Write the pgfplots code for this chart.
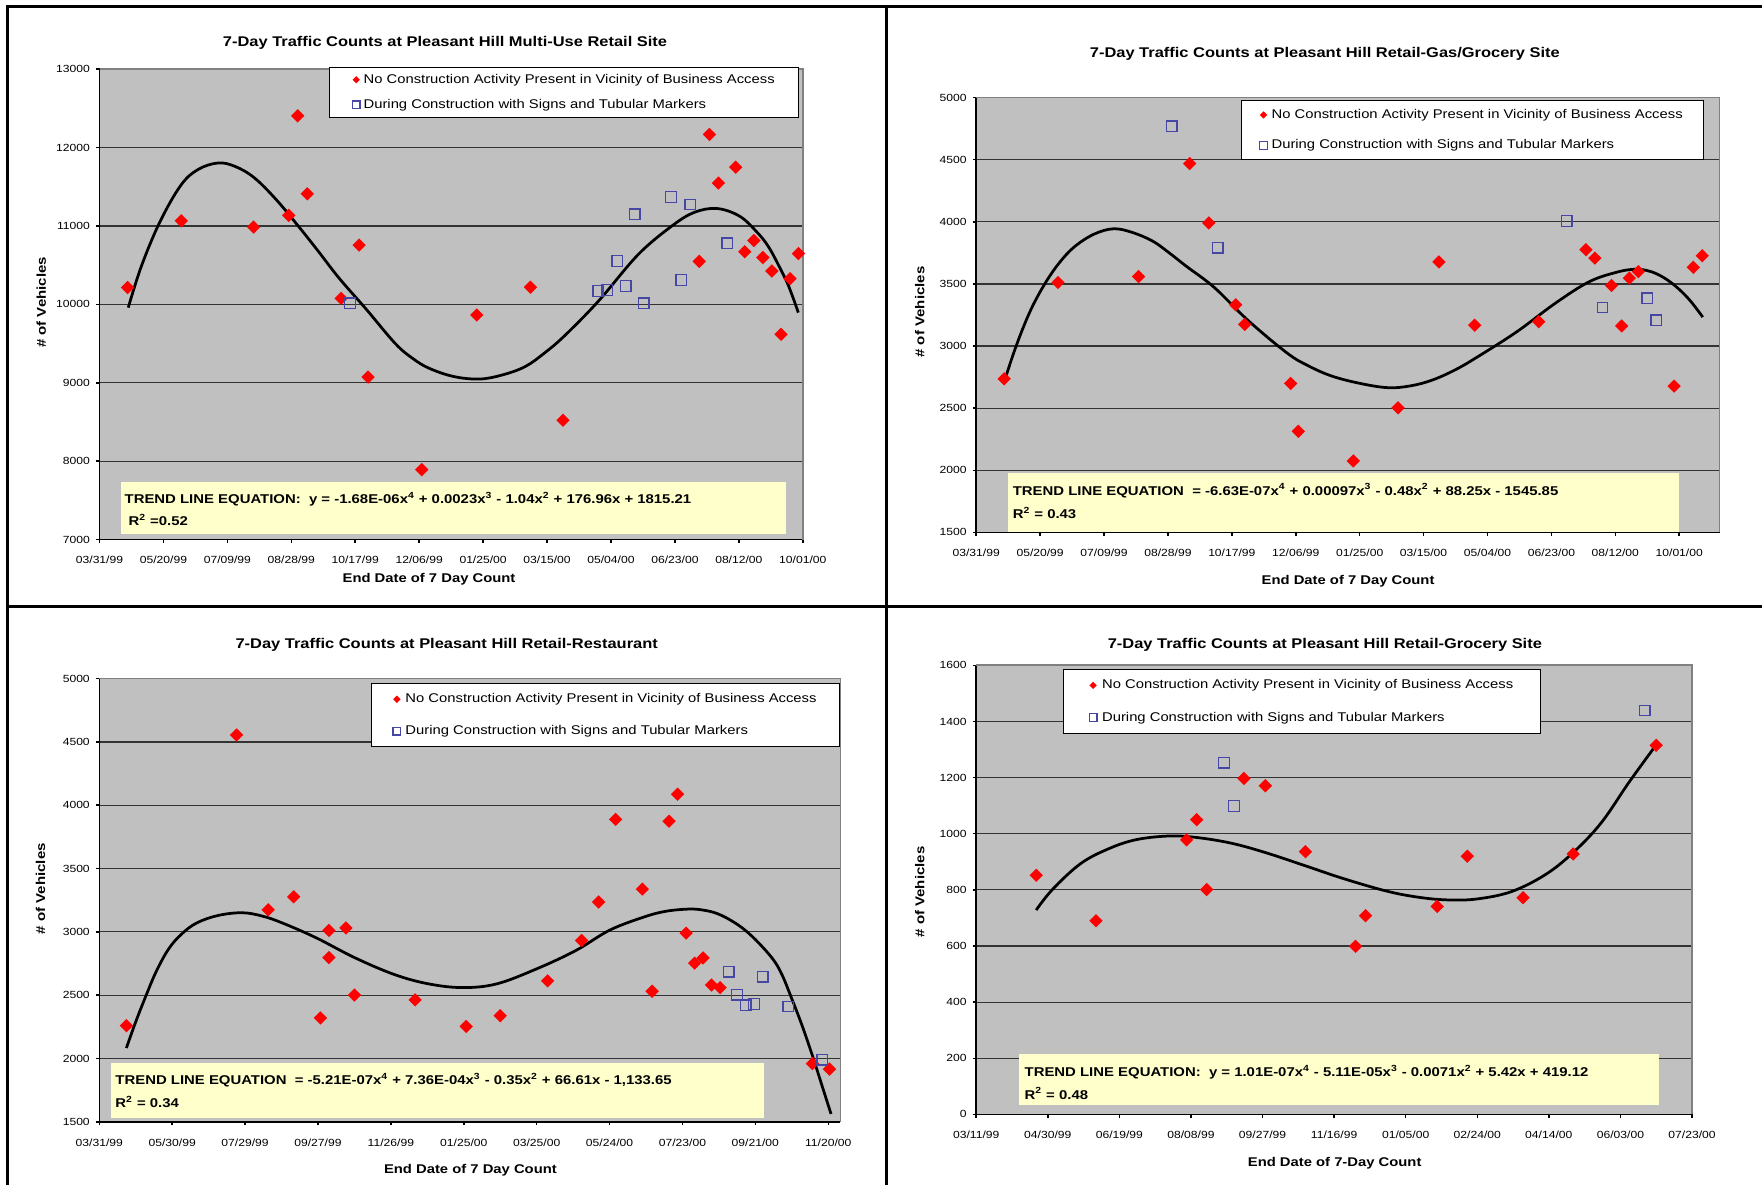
\documentclass[border=0pt]{standalone}
\usepackage{fontspec}
\setmainfont{Liberation Sans}[FakeStretch=1.17]
\usepackage{pgfplots}
\pgfplotsset{compat=1.18}
\definecolor{bggray}{RGB}{192,192,192}
\definecolor{framegray}{RGB}{128,128,128}
\definecolor{sqblue}{RGB}{70,70,165}
\definecolor{trendyellow}{RGB}{255,255,204}
\newcommand\titlefont{\fontsize{8}{9.6}\selectfont\bfseries}
\newcommand\labfont{\fontsize{7.2}{8.6}\selectfont\bfseries}
\newcommand\ylabfont{\fontsize{7.3}{8.8}\selectfont\bfseries}
\newcommand\tickfont{\fontsize{5.9}{7}\selectfont}
\newcommand\legfont{\fontsize{7.2}{8.6}\selectfont}
\newcommand\trendfont{\fontsize{7.25}{8.7}\selectfont\bfseries}
\pgfdeclareplotmark{ediamond}{%
  \pgfpathmoveto{\pgfqpoint{0pt}{\pgfplotmarksize}}%
  \pgfpathlineto{\pgfqpoint{\pgfplotmarksize}{0pt}}%
  \pgfpathlineto{\pgfqpoint{0pt}{-\pgfplotmarksize}}%
  \pgfpathlineto{\pgfqpoint{-\pgfplotmarksize}{0pt}}%
  \pgfpathclose\pgfusepathqfill}
\pgfplotsset{
  panel/.style={
    scale only axis, anchor=north west, clip=false,
    axis lines*=left,
    axis line style={black, line width=0.3mm},
    axis background/.style={fill=bggray},
    ymajorgrids, grid style={black!80, line width=0.25mm},
    tick align=outside, major tick length=0.7mm,
    tick style={black, line width=0.3mm},
    tick label style={font=\tickfont, inner sep=0pt},
    scaled y ticks=false, scaled x ticks=false,
    /pgf/number format/assume math mode=true,
    yticklabel style={/pgf/number format/1000 sep={}, /pgf/number format/fixed, xshift=-1.14mm},
    xticklabel style={yshift=-2.6mm},
    legend cell align=left,
    legend style={anchor=north west, draw=black, line width=0.2mm, fill=white,
      font=\legfont, nodes={inner sep=0pt, text height=1.9mm, text depth=0.5mm}},
  },
  redpts/.style={only marks, mark=ediamond, mark size=3.8pt, color=red,
    legend image code/.code={\fill[red] plot[mark=ediamond, mark size=2.1pt] coordinates {(0mm,0mm)};}},
  bluepts/.style={only marks, mark=square, mark size=3pt, color=sqblue, mark options={line width=0.25mm},
    legend image code/.code={\draw[sqblue, line width=0.2mm] plot[mark=square, mark size=2.2pt] coordinates {(0mm,0mm)};}},
  trend/.style={black, line width=0.55mm, smooth, tension=0.6, forget plot, mark=none},
}
\begin{document}
\begin{tikzpicture}
\useasboundingbox (0,0) rectangle (352.4mm,-237mm);
\fill[white] (0,0) rectangle (352.4mm,-237mm);

% ---------------- Panel 1 ----------------
\begin{axis}[panel, at={(19.9mm,-13.84mm)}, width=140.66mm, height=94.08mm,
  xmin=0, xmax=550, ymin=7000, ymax=13000, ytick={7000,8000,...,13000},
  xtick={0,50,...,550},
  xticklabels={03/31/99,05/20/99,07/09/99,08/28/99,10/17/99,12/06/99,01/25/00,03/15/00,05/04/00,06/23/00,08/12/00,10/01/00},
  title={7-Day Traffic Counts at Pleasant Hill Multi-Use Retail Site},
  every axis title/.style={at={(0.4913,1.0478)}, anchor=base, font=\titlefont},
  xlabel={End Date of 7 Day Count},
  every axis x label/.style={at={(0.4685,-0.0916)}, anchor=base, font=\labfont},
  ylabel={\# of Vehicles},
  every axis y label/.style={at={(-0.0829,0.504)}, anchor=center, rotate=90, font=\ylabfont},
  legend style={at={(0.3263,1.0053)}, inner xsep=4.57mm, inner ysep=1.31mm, row sep=2.62mm, column sep=0.71mm}]
\addplot[trend] coordinates {(22.5,9959) (32.7,10485) (47.2,11051) (63.6,11519) (77,11720) (92.7,11804) (106,11760) (120.9,11617) (138,11340) (155.4,11000) (171,10680) (187.2,10338) (208.3,9944) (231.3,9501) (245,9310) (257.8,9185) (277,9080) (297.1,9048) (315,9100) (332.8,9206) (348,9380) (363.7,9600) (390.2,10042) (421.1,10633) (447.6,11000) (465.2,11174) (482.9,11223) (500.6,11125) (513.8,10928) (523,10740) (531.5,10485) (539,10230) (546.5,9895)};
\addplot[redpts] coordinates {(22,10215) (64,11066) (120.5,10987) (148,11135) (155,12405) (162.5,11410) (189,10077) (203,10756) (210,9073) (252,7892) (295,9865) (337,10219) (362.5,8522) (469,10549) (477,12168) (484,11548) (497.5,11750) (504.6,10672) (511.7,10815) (518.8,10598) (525.8,10426) (533,9619) (540,10328) (546.6,10648)};
\addlegendentry{\makebox[82.45mm][l]{No Construction Activity Present in Vicinity of Business Access}}
\addplot[bluepts] coordinates {(196,10013) (390,10170) (397,10185) (405,10554) (411.5,10234) (418.5,11150) (425.6,10013) (447,11371) (455,10313) (462,11273) (491,10781)};
\addlegendentry{\makebox[82.45mm][l]{During Construction with Signs and Tubular Markers}}
\draw[framegray, line width=0.35mm] (rel axis cs:0,1) -- (rel axis cs:1,1) -- (rel axis cs:1,0);
\end{axis}

% ---------------- Panel 2 ----------------
\begin{axis}[panel, at={(195.24mm,-19.52mm)}, width=148.66mm, height=86.96mm,
  xmin=0, xmax=581.5, ymin=1500, ymax=5000, ytick={1500,2000,...,5000},
  xtick={0,50,...,550},
  xticklabels={03/31/99,05/20/99,07/09/99,08/28/99,10/17/99,12/06/99,01/25/00,03/15/00,05/04/00,06/23/00,08/12/00,10/01/00},
  title={7-Day Traffic Counts at Pleasant Hill Retail-Gas/Grocery Site},
  every axis title/.style={at={(0.469,1.0932)}, anchor=base, font=\titlefont},
  xlabel={End Date of 7 Day Count},
  every axis x label/.style={at={(0.5003,-0.1207)}, anchor=base, font=\labfont},
  ylabel={\# of Vehicles},
  every axis y label/.style={at={(-0.076,0.5067)}, anchor=center, rotate=90, font=\ylabfont},
  legend style={at={(0.3558,0.9938)}, inner xsep=3.71mm, inner ysep=1.63mm, row sep=3.68mm, column sep=0.83mm}]
\addplot[trend] coordinates {(21.9,2711) (29,2935) (37.2,3160) (45,3340) (54.8,3520) (65,3670) (76.7,3798) (92,3900) (107.4,3944) (122,3915) (138,3845) (151,3750) (164.3,3643) (186.2,3472) (212.5,3208) (243.2,2944) (260,2840) (278.3,2758) (300,2700) (322,2665) (340,2680) (357,2727) (375,2810) (392.2,2913) (422.9,3115) (453.5,3348) (479.8,3519) (501.7,3596) (514.9,3618) (524,3610) (532.4,3581) (541,3530) (549.9,3457) (559,3360) (568.4,3233)};
\addplot[redpts] coordinates {(21.9,2736) (64,3512) (127,3559) (167,4469) (182,3991) (203,3332) (210,3174) (246,2699) (252,2314) (295,2075) (330,2503) (362,3677) (390,3168) (440,3196) (477,3776) (484,3708) (497,3488) (505,3162) (511,3547) (518,3599) (546,2677) (561,3634) (568,3727)};
\addlegendentry{\makebox[82.65mm][l]{No Construction Activity Present in Vicinity of Business Access}}
\addplot[bluepts] coordinates {(153,4770) (189,3792) (462,4006) (490,3311) (525,3385) (532,3208)};
\addlegendentry{\makebox[82.65mm][l]{During Construction with Signs and Tubular Markers}}
\draw[framegray, line width=0.35mm] (rel axis cs:0,1) -- (rel axis cs:1,1) -- (rel axis cs:1,0);
\end{axis}

% ---------------- Panel 3 ----------------
\begin{axis}[panel, at={(19.86mm,-135.72mm)}, width=148.22mm, height=88.64mm,
  xmin=0, xmax=610, ymin=1500, ymax=5000, ytick={1500,2000,...,5000},
  xtick={0,60,...,600},
  xticklabels={03/31/99,05/30/99,07/29/99,09/27/99,11/26/99,01/25/00,03/25/00,05/24/00,07/23/00,09/21/00,11/20/00},
  title={7-Day Traffic Counts at Pleasant Hill Retail-Restaurant},
  every axis title/.style={at={(0.4688,1.0688)}, anchor=base, font=\titlefont},
  xlabel={End Date of 7 Day Count},
  every axis x label/.style={at={(0.5008,-0.1173)}, anchor=base, font=\labfont},
  ylabel={\# of Vehicles},
  every axis y label/.style={at={(-0.0792,0.526)}, anchor=center, rotate=90, font=\ylabfont},
  legend style={at={(0.3672,0.990)}, inner xsep=4.21mm, inner ysep=1.95mm, row sep=3.96mm, column sep=0.95mm}]
\addplot[trend] coordinates {(22.3,2083) (30,2290) (38.6,2500) (47,2690) (57.2,2867) (68,2985) (80.5,3072) (98,3130) (117.7,3151) (134,3125) (150.2,3072) (178.1,2955) (210.7,2794) (243.2,2662) (271.2,2589) (299.1,2560) (327,2589) (359.5,2706) (392.1,2852) (420,3013) (447.9,3116) (466,3162) (485.1,3180) (497,3172) (508.4,3145) (520,3090) (531.6,3013) (543,2910) (554.9,2779) (562,2660) (568.8,2501) (578.1,2270) (587.4,2010) (596.7,1730) (602.3,1562)};
\addplot[redpts] coordinates {(22.3,2259) (113,4555) (139,3174) (160,3277) (182,2320) (189,3011) (189,2797) (203,3031) (210,2501) (260,2463) (302,2253) (330,2338) (369,2613) (397,2932) (411,3236) (425,3888) (447,3338) (455,2531) (469,3874) (476,4087) (483,2990) (490,2753) (497,2794) (504,2580) (511,2560) (587,1960) (601,1916)};
\addlegendentry{\makebox[82.53mm][l]{No Construction Activity Present in Vicinity of Business Access}}
\addplot[bluepts] coordinates {(518,2686) (525,2504) (532,2420) (539,2431) (546,2645) (567,2411) (595,1990)};
\addlegendentry{\makebox[82.53mm][l]{During Construction with Signs and Tubular Markers}}
\draw[framegray, line width=0.35mm] (rel axis cs:0,1) -- (rel axis cs:1,1) -- (rel axis cs:1,0);
\end{axis}

% ---------------- Panel 4 ----------------
\begin{axis}[panel, at={(195.24mm,-133.06mm)}, width=143.16mm, height=89.82mm,
  xmin=0, xmax=500, ymin=0, ymax=1600, ytick={0,200,...,1600},
  xtick={0,50,...,500},
  xticklabels={03/11/99,04/30/99,06/19/99,08/08/99,09/27/99,11/16/99,01/05/00,02/24/00,04/14/00,06/03/00,07/23/00},
  title={7-Day Traffic Counts at Pleasant Hill Retail-Grocery Site},
  every axis title/.style={at={(0.4871,1.0383)}, anchor=base, font=\titlefont},
  xlabel={End Date of 7-Day Count},
  every axis x label/.style={at={(0.5008,-0.1167)}, anchor=base, font=\labfont},
  ylabel={\# of Vehicles},
  every axis y label/.style={at={(-0.0789,0.4954)}, anchor=center, rotate=90, font=\ylabfont},
  legend style={at={(0.1211,0.9927)}, inner xsep=5.17mm, inner ysep=2.06mm, row sep=4.04mm, column sep=1.03mm}]
\addplot[trend] coordinates {(41.9,728) (53.2,801) (72.8,893) (92.3,946) (111.9,979) (135.4,992) (154.9,986) (178.4,966) (201.9,933) (229.2,887) (256.6,840) (287.9,794) (311.4,772) (331,764) (350.5,768) (374,794) (397.5,854) (417,933) (436.6,1039) (456.1,1184) (474.9,1316)};
\addplot[redpts] coordinates {(41.9,852) (83.7,690) (147,978) (154,1050) (161,801) (187,1197) (202,1171) (230,936) (265,599) (272,708) (322,741) (343,920) (382,772) (417,928) (475,1315)};
\addlegendentry{\makebox[82.43mm][l]{No Construction Activity Present in Vicinity of Business Access}}
\addplot[bluepts] coordinates {(173,1253) (180,1099) (467,1439)};
\addlegendentry{\makebox[82.43mm][l]{During Construction with Signs and Tubular Markers}}
\draw[framegray, line width=0.35mm] (rel axis cs:0,1) -- (rel axis cs:1,1) -- (rel axis cs:1,0);
\end{axis}

% ---------------- boxes, texts and frame lines ----------------
\begin{scope}[x=0.2mm, y=-0.2mm]
\fill[trendyellow] (121,482.3) rectangle (786.2,534.5);
\node[anchor=base west, inner sep=0pt, font=\trendfont] at (124.3,504) {TREND LINE EQUATION:\ \ y = -1.68E-06x\textsuperscript{4} + 0.0023x\textsuperscript{3} - 1.04x\textsuperscript{2} + 176.96x + 1815.21};
\node[anchor=base west, inner sep=0pt, font=\trendfont] at (128.3,526) {R\textsuperscript{2} =0.52};

\fill[trendyellow] (1008,473) rectangle (1679.2,531.6);
\node[anchor=base west, inner sep=0pt, font=\trendfont] at (1012.5,495.3) {TREND LINE EQUATION\ \ = -6.63E-07x\textsuperscript{4} + 0.00097x\textsuperscript{3} - 0.48x\textsuperscript{2} + 88.25x - 1545.85};
\node[anchor=base west, inner sep=0pt, font=\trendfont] at (1012.5,518.5) {R\textsuperscript{2} = 0.43};

\fill[trendyellow] (110.6,1063) rectangle (763.6,1118.5);
\node[anchor=base west, inner sep=0pt, font=\trendfont] at (115.1,1084.6) {TREND LINE EQUATION\ \ = -5.21E-07x\textsuperscript{4} + 7.36E-04x\textsuperscript{3} - 0.35x\textsuperscript{2} + 66.61x - 1,133.65};
\node[anchor=base west, inner sep=0pt, font=\trendfont] at (115.1,1107.6) {R\textsuperscript{2} = 0.34};

\fill[trendyellow] (1019.2,1054) rectangle (1659,1105);
\node[anchor=base west, inner sep=0pt, font=\trendfont] at (1024.3,1076.5) {TREND LINE EQUATION:\ \ y = 1.01E-07x\textsuperscript{4} - 5.11E-05x\textsuperscript{3} - 0.0071x\textsuperscript{2} + 5.42x + 419.12};
\node[anchor=base west, inner sep=0pt, font=\trendfont] at (1024.3,1099.1) {R\textsuperscript{2} = 0.48};

\draw[line width=0.5mm] (7.3,1185) -- (7.3,6.6) -- (1762,6.6);
\draw[line width=0.5mm] (886.3,6.6) -- (886.3,1185);
\draw[line width=0.5mm] (7.3,606.5) -- (1762,606.5);
\end{scope}
\end{tikzpicture}
\end{document}
